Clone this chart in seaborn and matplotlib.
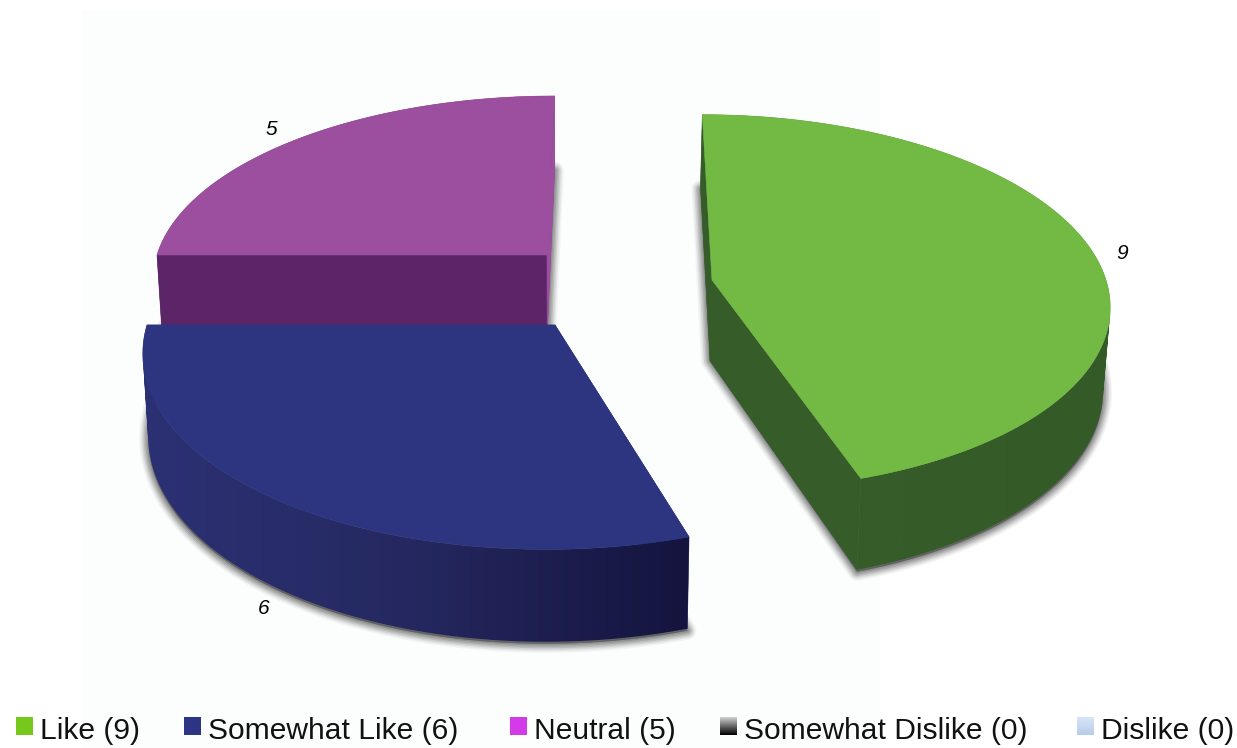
import numpy as np
import matplotlib
matplotlib.use("Agg")
import matplotlib.pyplot as plt
from matplotlib.patches import Polygon, Rectangle, PathPatch
from matplotlib.path import Path
import seaborn as sns

# ---- data ----
categories = ["Like", "Somewhat Like", "Neutral", "Somewhat Dislike", "Dislike"]
values = [9, 6, 5, 0, 0]
value_labels = ["9", "6", "5"]

# ---- styles ----
top_colors = ["#73BA45", "#2E3580", "#9C4F9E"]
wall_ramps = [("#365C2A", "#365C2A", "#345A28"), ("#2C3174", "#25285F", "#14143E"),
              ("#5B2568", "#5B2568", "#5B2568")]
first_face = ["#365C2A", "#2E3580", "#5B2568"]
last_face = ["#365C2A", "#2E3580", "#9C4F9E"]
last_face_layer = [0.1, 0.1, 0.25]
legend_ramps = [("#76C81D", "#76C81D"), ("#2E3585", "#2E3585"), ("#D43BE8", "#D43BE8"),
                ("#D0D0D0", "#000000"), ("#D8E5F8", "#B8CCE8")]

# ---- layout (pixels of the output picture) ----
W, H = 1237, 748
centers = [(712, 280), (555, 325), (547, 255)]
radii = [394, 408, 390]
persp = [0.119, 0.123, 0.116]
layers = [6, 4, 2]
VX, HY, DEPTH = 621, -1275, 81
legend_x = [16, 184, 510, 720, 1077]
label_xy = [(1122, 253), (264, 608), (271, 129)]

sns.set_style("white")
plt.rcParams["font.family"] = ["Liberation Sans", "DejaVu Sans"]

fig = plt.figure(figsize=(W / 100, H / 100), dpi=100, facecolor="white")
ax = fig.add_axes([0, 0, 1, 1])
ax.set_axis_off()


def project(angle_deg, center, radius, p, drop=0.0):
    t = np.radians(angle_deg)
    s = 1 / (1 + p * np.sin(t))
    x = VX + (center[0] - VX + radius * np.cos(t)) * s
    y = HY + (center[1] - HY) * s + drop * s
    if drop:
        x = 560 + (x - 560) * 0.987
    return x, y


def oriented(quad):
    q = np.asarray(quad)
    area = 0.5 * np.sum(q[:, 0] * np.roll(q[:, 1], -1) - np.roll(q[:, 0], -1) * q[:, 1])
    return q if area > 0 else q[::-1]


ax.add_patch(Rectangle((82, 10), 798, H - 10, fc="#FCFDFD", ec="none", zorder=0))

total = sum(values)
start = 90.0
for i, v in enumerate(values[:3]):
    sweep = 360.0 * v / total
    angles = np.linspace(start, start - sweep, 160)
    c, r, p = centers[i], radii[i], persp[i]
    z = layers[i]

    xt, yt = project(angles, c, r, p)
    xb, yb = project(angles, c, r, p, DEPTH)
    ax_, ay_ = project(0.0, c, 0.0, p)
    bx_, by_ = project(0.0, c, 0.0, p, DEPTH)

    # soft shadow below the slice
    outline = np.column_stack([np.r_[bx_, xb], np.r_[by_, yb + 2]])
    for lw, al in zip([18, 15, 12, 9, 6, 3], [0.05, 0.08, 0.11, 0.14, 0.16, 0.18]):
        ax.add_patch(Polygon(outline, closed=True, fc="#3A3A3A", ec="#3A3A3A",
                             lw=lw * 0.72, alpha=al, joinstyle="round", zorder=z))

    # radial faces
    first = [(xt[0], yt[0]), (ax_, ay_), (bx_, by_), (xb[0], yb[0])]
    last = [(ax_, ay_), (xt[-1], yt[-1]), (xb[-1], yb[-1]), (bx_, by_)]
    ax.add_patch(Polygon(first, fc=first_face[i], ec=first_face[i], lw=0.4, zorder=z + 0.1))
    ax.add_patch(Polygon(last, fc=last_face[i], ec=last_face[i], lw=0.4, zorder=z + last_face_layer[i]))

    # outer wall, shaded along the arc from left to right
    quads = [oriented([(xt[k], yt[k]), (xt[k + 1], yt[k + 1]), (xb[k + 1], yb[k + 1]), (xb[k], yb[k])])
             for k in range(len(angles) - 1)]
    wall = PathPatch(Path.make_compound_path(*[Path(np.vstack([q, q[0]]), closed=True) for q in quads]),
                     fc="none", ec="none", transform=ax.transData)
    ax.add_patch(wall)
    ramp = np.array(sns.blend_palette(list(wall_ramps[i]), n_colors=128))[None, :, :]
    im = ax.imshow(ramp, extent=(min(xt.min(), xb.min()), max(xt.max(), xb.max()),
                                 max(yt.max(), yb.max()), min(yt.min(), yb.min())),
                   aspect="auto", interpolation="bilinear", zorder=z + 0.2)
    im.set_clip_path(wall)

    # top surface
    top = np.column_stack([np.r_[ax_, xt], np.r_[ay_, yt]])
    ax.add_patch(Polygon(top, closed=True, fc=top_colors[i], ec=top_colors[i], lw=0.4, zorder=z + 0.3))

    ax.text(*label_xy[i], value_labels[i], style="italic", fontsize=15, color="black",
            ha="center", va="center", zorder=10)
    start -= sweep

# legend
for i, (name, v) in enumerate(zip(categories, values)):
    x0 = legend_x[i]
    grad = sns.blend_palette(list(legend_ramps[i]), n_colors=32)
    ax.imshow(np.array(grad)[:, None, :], extent=(x0, x0 + 17, 735, 717), aspect="auto",
              interpolation="bilinear", zorder=8)
    ax.text(x0 + 24, 731, f"{name} ({v})", fontsize=21.6, color="#111111",
            ha="left", va="center", zorder=10)

ax.set_xlim(0, W)
ax.set_ylim(H, 0)
fig.savefig("out.png", dpi=100, facecolor="white")
